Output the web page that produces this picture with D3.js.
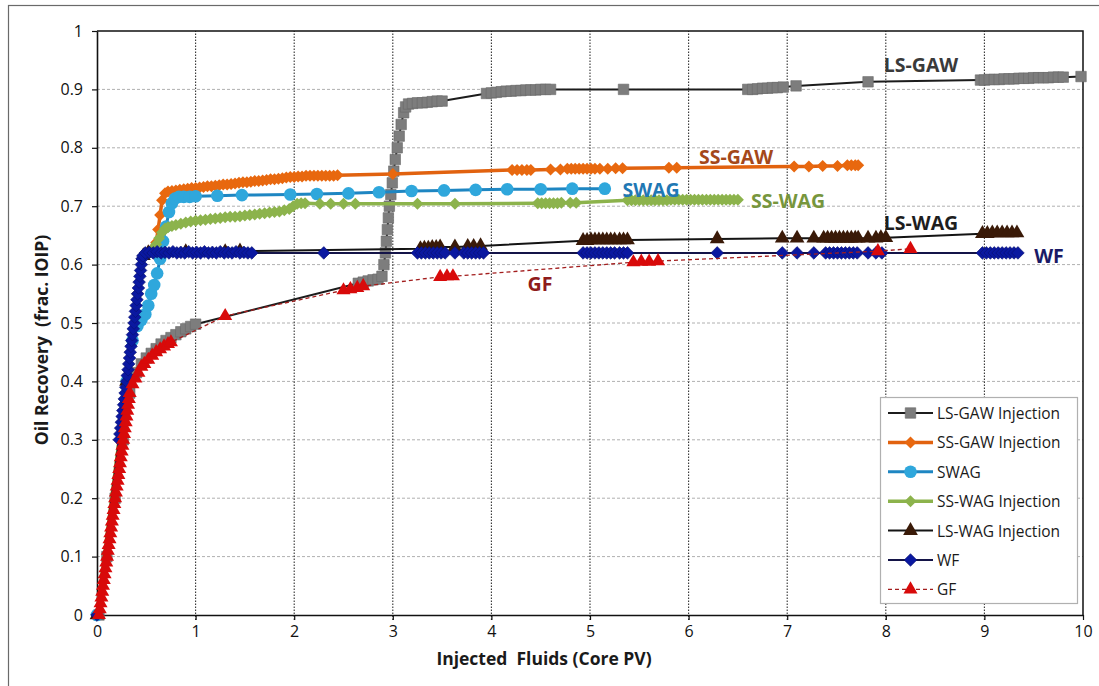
<!DOCTYPE html>
<html>
<head>
<meta charset="utf-8">
<script src="https://cdn.jsdelivr.net/npm/d3@7"></script>
<style>
  body { margin: 0; background: #fff; }
  text { font-family: "Open Sans", "Noto Sans", sans-serif; }
</style>
</head>
<body>
<svg id="chart" width="1099" height="686"></svg>
<script>
// Recovery curves: [injected fluids (core PV), oil recovery (frac. IOIP)]
const lsGaw = [[0.02,0],[0.1,0.1],[0.184,0.2],[0.266,0.3],[0.332,0.38],[0.4,0.415],[0.45,0.43],[0.5,0.44],[0.55,0.448],[0.6,0.456],[0.65,0.464],[0.7,0.47],[0.75,0.475],[0.8,0.48],[0.85,0.485],[0.9,0.49],[0.95,0.494],[1.0,0.498],
  [2.65,0.568],[2.7,0.57],[2.75,0.572],[2.8,0.574],[2.85,0.575],[2.89,0.58],[2.91,0.6],[2.925,0.62],[2.935,0.64],[2.945,0.66],[2.955,0.68],[2.965,0.7],[2.98,0.72],[2.995,0.74],[3.01,0.76],[3.025,0.78],[3.045,0.8],[3.065,0.82],[3.085,0.84],[3.11,0.86],[3.13,0.87],[3.16,0.875],
  [3.2,0.876],[3.25,0.877],[3.3,0.877],[3.35,0.878],[3.4,0.879],[3.45,0.88],[3.5,0.88],
  [3.95,0.893],[4.0,0.894],[4.05,0.895],[4.1,0.896],[4.15,0.897],[4.2,0.897],[4.25,0.898],[4.3,0.898],[4.35,0.899],[4.4,0.899],[4.45,0.899],[4.5,0.9],[4.55,0.9],[4.6,0.9],
  [5.34,0.9],[6.6,0.9],[6.65,0.9],[6.7,0.901],[6.75,0.902],[6.8,0.902],[6.85,0.903],[6.9,0.903],[6.96,0.904],[7.09,0.906],[7.82,0.913],
  [8.96,0.916],[9.0,0.916],[9.05,0.917],[9.1,0.917],[9.15,0.917],[9.2,0.918],[9.25,0.918],[9.3,0.918],[9.35,0.919],[9.4,0.919],[9.45,0.919],[9.5,0.92],[9.55,0.92],[9.6,0.92],[9.65,0.92],[9.7,0.921],[9.75,0.921],[9.8,0.921],[9.98,0.922]];

const ssGaw = [[0,0],[0.3,0.4],[0.41,0.55],[0.47,0.615],[0.55,0.625],[0.6,0.638],[0.62,0.66],[0.64,0.685],[0.66,0.71],[0.69,0.722],
  [0.72,0.725],[0.76,0.726],[0.8,0.727],[0.84,0.728],[0.88,0.729],[0.92,0.73],[0.96,0.731],[1.0,0.731],[1.04,0.732],[1.08,0.733],[1.12,0.734],[1.16,0.734],[1.2,0.735],[1.24,0.736],[1.28,0.737],[1.32,0.737],[1.36,0.738],[1.4,0.739],[1.44,0.74],[1.48,0.741],[1.52,0.741],[1.56,0.742],[1.6,0.743],[1.64,0.743],[1.68,0.744],[1.72,0.745],[1.76,0.746],[1.8,0.746],[1.84,0.747],[1.88,0.748],[1.92,0.749],[1.96,0.75],[2.0,0.75],[2.04,0.751],[2.08,0.751],[2.12,0.752],[2.16,0.752],[2.2,0.752],[2.24,0.752],[2.28,0.752],[2.32,0.752],[2.36,0.752],[2.4,0.752],[2.44,0.753],
  [3.0,0.755],[4.21,0.762],[4.26,0.762],[4.31,0.762],[4.36,0.762],[4.4,0.762],[4.6,0.763],[4.7,0.763],[4.77,0.764],[4.81,0.764],[4.85,0.764],[4.89,0.764],[4.93,0.764],[4.97,0.764],[5.01,0.764],[5.05,0.764],[5.1,0.764],[5.18,0.764],[5.26,0.765],[5.33,0.765],[5.8,0.766],[5.88,0.766],
  [7.07,0.768],[7.22,0.768],[7.36,0.769],[7.51,0.769],[7.61,0.77],[7.65,0.77],[7.69,0.77],[7.72,0.77]];

const swag = [[0,0],[0.3,0.4],[0.36,0.47],[0.41,0.495],[0.45,0.505],[0.49,0.515],[0.52,0.53],[0.55,0.55],[0.58,0.565],[0.61,0.585],[0.64,0.61],[0.67,0.64],[0.7,0.665],[0.73,0.69],[0.76,0.705],[0.79,0.713],[0.83,0.716],[0.88,0.716],[0.94,0.716],[1.0,0.717],
  [1.22,0.718],[1.47,0.719],[1.96,0.72],[2.23,0.721],[2.55,0.722],[2.86,0.724],[3.19,0.726],[3.52,0.727],[3.84,0.728],[4.16,0.729],[4.5,0.729],[4.82,0.73],[5.15,0.73]];

const ssWag = [[0,0],[0.3,0.4],[0.41,0.55],[0.47,0.612],[0.53,0.62],[0.57,0.628],[0.6,0.635],[0.63,0.645],[0.66,0.655],[0.69,0.662],
  [0.72,0.664],[0.76,0.666],[0.8,0.668],[0.85,0.67],[0.9,0.672],[0.95,0.674],[1.0,0.675],[1.05,0.676],[1.1,0.677],[1.15,0.678],[1.2,0.679],[1.25,0.68],[1.3,0.681],[1.35,0.682],[1.4,0.682],[1.45,0.683],[1.5,0.684],[1.55,0.685],[1.6,0.686],[1.65,0.687],[1.7,0.688],[1.75,0.689],[1.8,0.69],[1.85,0.691],[1.9,0.693],[1.95,0.695],[1.99,0.7],[2.03,0.704],[2.07,0.705],[2.11,0.705],
  [2.26,0.704],[2.37,0.704],[2.5,0.704],[2.62,0.704],[3.25,0.704],[3.63,0.704],[4.47,0.705],[4.51,0.705],[4.55,0.705],[4.59,0.705],[4.63,0.705],[4.67,0.705],[4.71,0.706],[4.8,0.706],[4.86,0.706],
  [5.38,0.71],[5.42,0.71],[5.46,0.71],[5.5,0.71],[5.54,0.71],[5.58,0.71],[5.62,0.71],[5.66,0.71],[5.7,0.71],[5.74,0.71],[5.78,0.71],[5.82,0.711],[5.86,0.711],[5.9,0.711],[5.94,0.711],[5.98,0.711],[6.02,0.711],[6.06,0.711],[6.1,0.711],[6.14,0.711],[6.18,0.711],[6.22,0.711],[6.26,0.711],[6.3,0.711],[6.34,0.711],[6.38,0.711],[6.42,0.711],[6.46,0.711],[6.5,0.711]];

const lsWag = [[0,0],[0.3,0.4],[0.47,0.615],[0.52,0.62],[0.9,0.622],[1.3,0.622],[1.45,0.623],
  [3.28,0.627],[3.32,0.628],[3.36,0.628],[3.4,0.629],[3.44,0.629],[3.48,0.63],[3.63,0.63],[3.76,0.631],[3.82,0.631],[3.89,0.632],
  [4.93,0.641],[4.97,0.641],[5.01,0.642],[5.05,0.642],[5.09,0.642],[5.13,0.642],[5.17,0.642],[5.21,0.642],[5.25,0.642],[5.3,0.642],[5.34,0.642],[5.38,0.642],
  [6.29,0.644],[6.95,0.645],[7.1,0.645],[7.27,0.645],[7.37,0.645],[7.41,0.645],[7.45,0.645],[7.49,0.645],[7.53,0.645],[7.57,0.645],[7.61,0.645],[7.65,0.645],[7.69,0.645],[7.72,0.645],[7.82,0.645],[7.9,0.645],[7.95,0.646],[8.0,0.646],
  [8.98,0.653],[9.03,0.653],[9.08,0.654],[9.13,0.654],[9.18,0.654],[9.23,0.654],[9.28,0.654],[9.33,0.654]];

const wf = [[0,0],[0.225,0.3],[0.232,0.31],[0.24,0.32],[0.247,0.33],[0.255,0.34],[0.262,0.35],[0.27,0.36],[0.277,0.37],[0.285,0.38],[0.292,0.39],[0.3,0.4],[0.307,0.41],[0.315,0.42],[0.322,0.43],[0.33,0.44],[0.337,0.45],[0.345,0.46],[0.352,0.47],[0.36,0.48],[0.368,0.49],[0.376,0.5],[0.383,0.51],[0.39,0.52],[0.397,0.53],[0.405,0.54],[0.412,0.55],[0.42,0.56],[0.427,0.57],[0.435,0.58],[0.442,0.59],[0.45,0.6],[0.457,0.61],[0.465,0.615],[0.49,0.62],
  [0.53,0.621],[0.57,0.62],[0.61,0.622],[0.65,0.62],[0.69,0.621],[0.73,0.62],[0.77,0.622],[0.81,0.62],[0.85,0.621],[0.89,0.62],[0.93,0.622],[0.97,0.62],[1.01,0.621],[1.05,0.62],[1.09,0.622],[1.13,0.62],[1.17,0.621],[1.21,0.62],[1.25,0.622],[1.29,0.62],[1.33,0.621],[1.37,0.62],[1.41,0.622],[1.45,0.62],[1.49,0.621],[1.53,0.62],[1.57,0.62],
  [2.3,0.62],[3.25,0.62],[3.29,0.62],[3.33,0.62],[3.37,0.62],[3.41,0.62],[3.45,0.62],[3.49,0.62],[3.53,0.62],[3.63,0.62],[3.72,0.62],[3.76,0.62],[3.8,0.62],[3.84,0.62],[3.88,0.62],[3.92,0.62],
  [4.93,0.62],[4.97,0.62],[5.01,0.62],[5.05,0.62],[5.09,0.62],[5.13,0.62],[5.17,0.62],[5.21,0.62],[5.25,0.62],[5.3,0.62],[5.34,0.62],[5.38,0.62],
  [6.29,0.62],[6.95,0.62],[7.1,0.62],[7.27,0.62],[7.39,0.62],[7.43,0.62],[7.47,0.62],[7.51,0.62],[7.55,0.62],[7.59,0.62],[7.63,0.62],[7.67,0.62],[7.71,0.62],[7.82,0.62],[7.9,0.62],[7.96,0.62],
  [8.98,0.62],[9.02,0.62],[9.06,0.62],[9.1,0.62],[9.14,0.62],[9.18,0.62],[9.22,0.62],[9.26,0.62],[9.3,0.62],[9.34,0.62]];

const gf = [[0.02,0],[0.028,0.01],[0.036,0.02],[0.045,0.03],[0.053,0.04],[0.061,0.05],[0.069,0.06],[0.077,0.07],[0.086,0.08],[0.094,0.09],[0.102,0.1],[0.11,0.11],[0.118,0.12],[0.127,0.13],[0.135,0.14],[0.143,0.15],[0.151,0.16],[0.159,0.17],[0.168,0.18],[0.176,0.19],
  [0.184,0.2],[0.192,0.21],[0.2,0.22],[0.209,0.23],[0.217,0.24],[0.225,0.25],[0.233,0.26],[0.241,0.27],[0.25,0.28],[0.258,0.29],[0.266,0.3],[0.274,0.31],[0.282,0.32],[0.291,0.33],[0.299,0.34],[0.307,0.35],[0.315,0.36],[0.323,0.37],[0.332,0.38],
  [0.36,0.395],[0.39,0.405],[0.42,0.415],[0.45,0.425],[0.48,0.43],[0.52,0.437],[0.56,0.444],[0.6,0.45],[0.64,0.455],[0.68,0.46],[0.72,0.464],[0.75,0.467],
  [1.3,0.512],[2.5,0.556],[2.57,0.558],[2.64,0.56],[2.7,0.563],[3.48,0.579],[3.55,0.58],[3.61,0.58],[5.44,0.604],[5.52,0.605],[5.6,0.605],[5.69,0.606],[7.92,0.623],[8.25,0.627]];

// Axis ticks
const xTicks = [0, 1, 2, 3, 4, 5, 6, 7, 8, 9, 10];
const yTicks = [0, 0.1, 0.2, 0.3, 0.4, 0.5, 0.6, 0.7, 0.8, 0.9, 1];
const yTickLabels = ["0", "0.1", "0.2", "0.3", "0.4", "0.5", "0.6", "0.7", "0.8", "0.9", "1"];

// Series names, legend entries and in-plot labels
const legendNames = ["LS-GAW Injection", "SS-GAW Injection", "SWAG", "SS-WAG Injection", "LS-WAG Injection", "WF", "GF"];
const curveLabels = ["LS-GAW", "SS-GAW", "SWAG", "SS-WAG", "LS-WAG", "WF", "GF"];

const svg = d3.select("#chart");
const x = d3.scaleLinear().domain([0, 10]).range([97, 1083]);
const y = d3.scaleLinear().domain([0, 1]).range([615, 31]);

// outer frame
svg.append("rect").attr("x", 8.5).attr("y", 5.5).attr("width", 1100).attr("height", 700)
  .attr("fill", "none").attr("stroke", "#6a6a6a").attr("stroke-width", 1.2);

// gridlines
svg.append("g").selectAll("line").data(yTicks.slice(1, -1)).join("line")
  .attr("x1", x(0)).attr("x2", x(10)).attr("y1", d => y(d)).attr("y2", d => y(d))
  .attr("stroke", "#b0b0b0").attr("stroke-width", 1).attr("stroke-dasharray", "3,2");
svg.append("g").selectAll("line").data(xTicks.slice(1, -1)).join("line")
  .attr("x1", d => x(d)).attr("x2", d => x(d)).attr("y1", y(0) + 5).attr("y2", y(1))
  .attr("stroke", "#333").attr("stroke-width", 1.1).attr("stroke-dasharray", "1.5,1.5");

// plot border (top and right)
svg.append("path").attr("d", `M${x(0)},${y(1)}H${x(10)}V${y(0)}`)
  .attr("fill", "none").attr("stroke", "#111").attr("stroke-width", 1.5);

// axes
const gx = svg.append("g").attr("transform", `translate(0,${y(0)})`)
  .call(d3.axisBottom(x).tickValues(xTicks).tickSize(5).tickSizeOuter(0).tickPadding(6).tickFormat(d3.format("d")));
const gy = svg.append("g").attr("transform", `translate(${x(0)},0)`)
  .call(d3.axisLeft(y).tickValues(yTicks).tickSize(5).tickSizeOuter(0).tickPadding(9).tickFormat((d, i) => yTickLabels[i]));
[gx, gy].forEach(g => {
  g.select(".domain").attr("stroke", "#111").attr("stroke-width", 1.6);
  g.selectAll(".tick line").attr("stroke", "#111").attr("stroke-width", 1.2);
  g.selectAll(".tick text").attr("font-size", 16).attr("fill", "#111")
    .attr("font-family", "'Open Sans','Noto Sans',sans-serif");
});

// axis titles
svg.append("text").attr("x", 544).attr("y", 665).attr("text-anchor", "middle")
  .attr("font-size", 17.5).attr("font-weight", "bold").attr("fill", "#1a1a1a")
  .attr("xml:space", "preserve").text("Injected  Fluids (Core PV)");
svg.append("text").attr("transform", "translate(48,340) rotate(-90)").attr("text-anchor", "middle")
  .attr("font-size", 17.5).attr("font-weight", "bold").attr("fill", "#1a1a1a")
  .attr("xml:space", "preserve").text("Oil Recovery  (frac. IOIP)");

// series styles
const sym = (type, size, rot) => ({ type, size, rot: rot || 0 });
const series = [
  { data: lsGaw, line: "#1c1c1c", width: 2, dash: null, fill: "#7d7d7d", stroke: "#6a6a6a", marker: sym(d3.symbolSquare, 110) },
  { data: ssGaw, line: "#e1620f", width: 3.5, dash: null, fill: "#e8680f", stroke: "none", marker: sym(d3.symbolSquare, 72, 45) },
  { data: swag, line: "#1e86c2", width: 3, dash: null, fill: "#2fa7dc", stroke: "none", marker: sym(d3.symbolCircle, 125) },
  { data: ssWag, line: "#8cb34c", width: 3.5, dash: null, fill: "#8cb34c", stroke: "none", marker: sym(d3.symbolSquare, 72, 45) },
  { data: lsWag, line: "#141414", width: 2, dash: null, fill: "#3a1a08", stroke: "none", marker: sym(d3.symbolTriangle, 95) },
  { data: wf, line: "#141448", width: 2, dash: null, fill: "#0a18a0", stroke: "#0a1270", marker: sym(d3.symbolSquare, 80, 45) },
  { data: gf, line: "#a31d1d", width: 1.3, dash: "4,3", fill: "#d80a0a", stroke: "none", marker: sym(d3.symbolTriangle, 85) }
];

const lineGen = d3.line().x(d => x(d[0])).y(d => y(d[1]));
series.forEach(s => {
  const g = svg.append("g");
  g.append("path").datum(s.data).attr("d", lineGen).attr("fill", "none")
    .attr("stroke", s.line).attr("stroke-width", s.width).attr("stroke-linejoin", "round")
    .attr("stroke-dasharray", s.dash);
  g.selectAll("path.m").data(s.data).join("path").attr("class", "m")
    .attr("d", d3.symbol().type(s.marker.type).size(s.marker.size))
    .attr("transform", d => `translate(${x(d[0])},${y(d[1])}) rotate(${s.marker.rot})`)
    .attr("fill", s.fill).attr("stroke", s.stroke).attr("stroke-width", 0.6);
});

// in-plot curve labels
const labelPos = [[921, 64], [736, 156], [651, 189], [788, 200], [921, 222], [1049, 255], [540, 283]];
const labelColor = ["#3a3a3a", "#a4481a", "#1f78b4", "#77963d", "#1e1e1e", "#1a1a66", "#8e1b1b"];
svg.append("g").selectAll("text").data(curveLabels).join("text")
  .attr("x", (d, i) => labelPos[i][0]).attr("y", (d, i) => labelPos[i][1])
  .attr("text-anchor", "middle").attr("dominant-baseline", "central")
  .attr("font-size", 19.5).attr("font-weight", "bold")
  .attr("fill", (d, i) => labelColor[i]).text(d => d);

// legend
const lg = svg.append("g");
lg.append("rect").attr("x", 880.5).attr("y", 397.5).attr("width", 197).attr("height", 206)
  .attr("fill", "#fff").attr("stroke", "#b0b0b0").attr("stroke-width", 1.2);
const items = lg.selectAll("g.item").data(series).join("g").attr("class", "item")
  .attr("transform", (d, i) => `translate(0,${413 + i * 29.4})`);
items.append("line").attr("x1", 888).attr("x2", 933).attr("y1", 0).attr("y2", 0)
  .attr("stroke", d => d.line).attr("stroke-width", d => d.width).attr("stroke-dasharray", d => d.dash);
items.append("path")
  .attr("d", d => d3.symbol().type(d.marker.type).size(d.marker.size)())
  .attr("transform", d => `translate(910.5,0) rotate(${d.marker.rot})`)
  .attr("fill", d => d.fill).attr("stroke", d => d.stroke).attr("stroke-width", 0.6);
items.append("text").attr("x", 937).attr("y", 0).attr("dominant-baseline", "central")
  .attr("font-size", 15.5).attr("fill", "#1a1a1a").text((d, i) => legendNames[i]);
</script>
</body>
</html>
